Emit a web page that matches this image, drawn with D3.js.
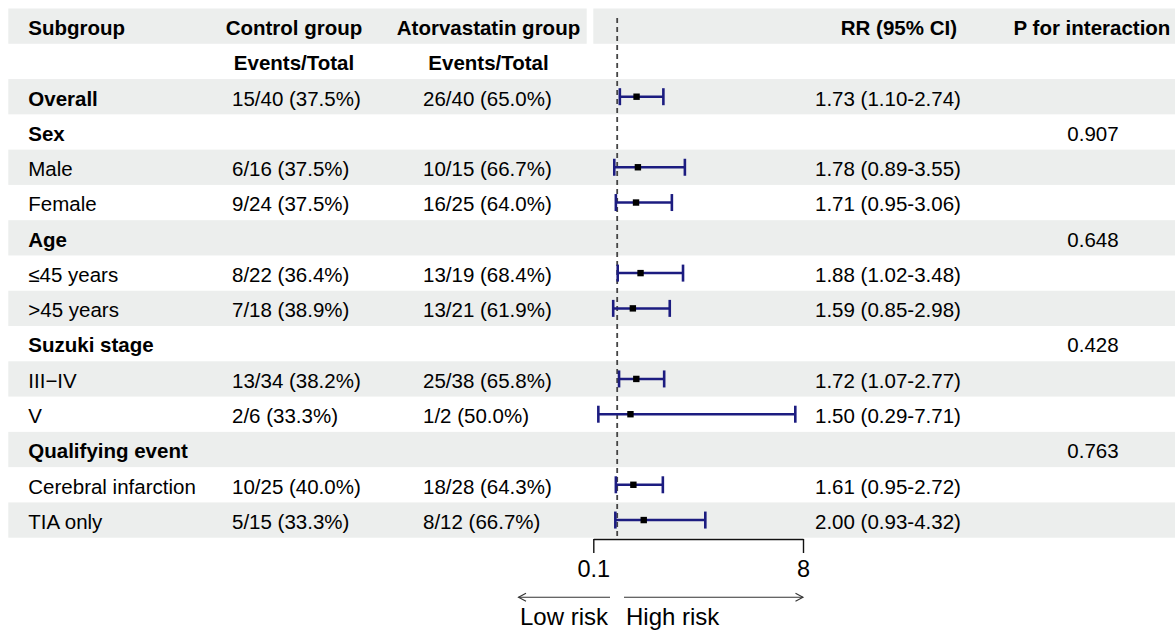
<!DOCTYPE html>
<html>
<head>
<meta charset="utf-8">
<script src="https://cdn.jsdelivr.net/npm/d3@7"></script>
<style>
  body { margin: 0; background: #fff; }
  svg text { font-family: "Liberation Sans", Arial, Helvetica, sans-serif; }
</style>
</head>
<body>
<svg id="chart" width="1175" height="630"></svg>
<script>
/*  Data  */
const subgroups = ["Overall", "Sex", "Male", "Female", "Age", "\u226445 years", ">45 years",
                   "Suzuki stage", "III\u2212IV", "V", "Qualifying event", "Cerebral infarction", "TIA only"];
const isHeading = [true, true, false, false, true, false, false, true, false, false, true, false, false];
const controlTxt = ["15/40 (37.5%)", "", "6/16 (37.5%)", "9/24 (37.5%)", "", "8/22 (36.4%)", "7/18 (38.9%)",
                    "", "13/34 (38.2%)", "2/6 (33.3%)", "", "10/25 (40.0%)", "5/15 (33.3%)"];
const atorvaTxt  = ["26/40 (65.0%)", "", "10/15 (66.7%)", "16/25 (64.0%)", "", "13/19 (68.4%)", "13/21 (61.9%)",
                    "", "25/38 (65.8%)", "1/2 (50.0%)", "", "18/28 (64.3%)", "8/12 (66.7%)"];
const rr    = [1.73, null, 1.78, 1.71, null, 1.88, 1.59, null, 1.72, 1.50, null, 1.61, 2.00];
const lower = [1.10, null, 0.89, 0.95, null, 1.02, 0.85, null, 1.07, 0.29, null, 0.95, 0.93];
const upper = [2.74, null, 3.55, 3.06, null, 3.48, 2.98, null, 2.77, 7.71, null, 2.72, 4.32];
const pInter = ["", "0.907", "", "", "0.648", "", "", "0.428", "", "", "0.763", "", ""];
const xTicks = [0.1, 8];
const refLine = 1;

/*  Layout  */
const top0 = 8.5, rowH = 35.28, nRows = subgroups.length + 2;
const fs = 20.5;
const ink = "#000", band = "#eceeed", ciCol = "#1c1c80";

const svg = d3.select("#chart");
const rowY = i => top0 + rowH * (i + 0.5);   // centre of table row i

const xScale = d3.scaleLinear().domain([0.1, 8]).range([593.3, 803]);

/* ---------- row bands ---------- */
// header row: two pieces with a gap before the plot column
svg.append("rect").attr("x", 8.3).attr("y", top0).attr("width", 586.7 - 8.3).attr("height", rowH).attr("fill", band);
svg.append("rect").attr("x", 593.3).attr("y", top0).attr("width", 1175 - 593.3).attr("height", rowH).attr("fill", band);

svg.selectAll(".band")
  .data(subgroups.map((d, i) => i).filter(i => i % 2 === 0))
  .join("rect")
  .attr("class", "band")
  .attr("x", 8.3)
  .attr("y", i => top0 + rowH * (i + 2))
  .attr("width", 1175 - 8.3)
  .attr("height", rowH)
  .attr("fill", band);

/* ---------- header text ---------- */
const hdr = svg.append("g").attr("font-weight", "bold").attr("font-size", fs).attr("fill", ink);
const by = rowY(0) + 8.8, by2 = rowY(1) + 8.8;
hdr.append("text").attr("x", 28.3).attr("y", by).text("Subgroup");
hdr.append("text").attr("x", 294).attr("y", by).attr("text-anchor", "middle").text("Control group");
hdr.append("text").attr("x", 488.5).attr("y", by).attr("text-anchor", "middle").text("Atorvastatin group");
hdr.append("text").attr("x", 957).attr("y", by).attr("text-anchor", "end").text("RR (95% CI)");
hdr.append("text").attr("x", 1092).attr("y", by).attr("text-anchor", "middle").text("P for interaction");
hdr.append("text").attr("x", 294).attr("y", by2).attr("text-anchor", "middle").text("Events/Total");
hdr.append("text").attr("x", 488.5).attr("y", by2).attr("text-anchor", "middle").text("Events/Total");

/* ---------- body text ---------- */
const body = svg.append("g").attr("font-size", fs).attr("fill", ink);
const rows = body.selectAll("g.row")
  .data(subgroups.map((s, i) => i))
  .join("g")
  .attr("class", "row")
  .attr("transform", i => `translate(0,${rowY(i + 2) + 8.8})`);

rows.append("text").attr("x", 28.3)
  .attr("font-weight", i => isHeading[i] ? "bold" : "normal")
  .text(i => subgroups[i]);
rows.append("text").attr("x", 232).text(i => controlTxt[i]);
rows.append("text").attr("x", 423).text(i => atorvaTxt[i]);
rows.append("text").attr("x", 815)
  .text(i => rr[i] == null ? "" : `${rr[i].toFixed(2)} (${lower[i].toFixed(2)}-${upper[i].toFixed(2)})`);
rows.append("text").attr("x", 1093).attr("text-anchor", "middle").text(i => pInter[i]);

/* ---------- reference line ---------- */
svg.append("line")
  .attr("x1", xScale(refLine)).attr("x2", xScale(refLine))
  .attr("y1", 18).attr("y2", top0 + rowH * nRows)
  .attr("stroke", "#444").attr("stroke-width", 1.8)
  .attr("stroke-dasharray", "5 4");

/* ---------- CIs ---------- */
const ciData = subgroups.map((s, i) => i).filter(i => rr[i] != null);
const ci = svg.append("g").selectAll("g.ci").data(ciData).join("g").attr("class", "ci");
const capH = 8.5;
ci.append("line")
  .attr("x1", i => xScale(lower[i])).attr("x2", i => xScale(upper[i]))
  .attr("y1", i => rowY(i + 2)).attr("y2", i => rowY(i + 2))
  .attr("stroke", ciCol).attr("stroke-width", 2.5);
ci.append("line")
  .attr("x1", i => xScale(lower[i])).attr("x2", i => xScale(lower[i]))
  .attr("y1", i => rowY(i + 2) - capH).attr("y2", i => rowY(i + 2) + capH)
  .attr("stroke", ciCol).attr("stroke-width", 2.6);
ci.append("line")
  .attr("x1", i => xScale(upper[i])).attr("x2", i => xScale(upper[i]))
  .attr("y1", i => rowY(i + 2) - capH).attr("y2", i => rowY(i + 2) + capH)
  .attr("stroke", ciCol).attr("stroke-width", 2.6);
ci.append("rect")
  .attr("x", i => xScale(rr[i]) - 3.2).attr("y", i => rowY(i + 2) - 3.2)
  .attr("width", 6.4).attr("height", 6.4)
  .attr("fill", "#000");

/* ---------- x axis ---------- */
const axisY = 539;
const xAxis = d3.axisBottom(xScale).tickValues(xTicks).tickFormat(d => d)
  .tickSize(14).tickSizeOuter(0).tickPadding(7.5);
const ax = svg.append("g").attr("transform", `translate(0,${axisY})`).call(xAxis);
ax.select(".domain").attr("stroke", "#111").attr("stroke-width", 1.4);
ax.selectAll(".tick line").attr("stroke", "#111").attr("stroke-width", 1.4);
ax.selectAll(".tick text").attr("font-size", 23.5).attr("fill", ink)
  .attr("font-family", "'Liberation Sans', Arial, sans-serif");

/* ---------- risk arrows ---------- */
const arrY = 597.3;
const arrows = svg.append("g").attr("stroke", "#333").attr("stroke-width", 1.1).attr("fill", "none");
arrows.append("line").attr("x1", 610).attr("x2", 518.5).attr("y1", arrY).attr("y2", arrY);
arrows.append("path").attr("d", `M${526},${arrY - 4}L${518.5},${arrY}L${526},${arrY + 4}`);
arrows.append("line").attr("x1", 624).attr("x2", 803).attr("y1", arrY).attr("y2", arrY);
arrows.append("path").attr("d", `M${795.5},${arrY - 4}L${803},${arrY}L${795.5},${arrY + 4}`);

svg.append("text").attr("x", 608).attr("y", 625).attr("text-anchor", "end")
  .attr("font-size", 24).attr("fill", ink).text("Low risk");
svg.append("text").attr("x", 626).attr("y", 625)
  .attr("font-size", 24).attr("fill", ink).text("High risk");
</script>
</body>
</html>
